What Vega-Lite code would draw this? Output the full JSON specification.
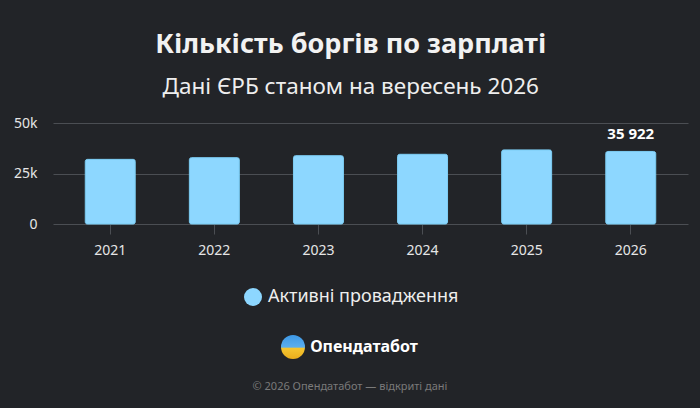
{
  "$schema": "https://vega.github.io/schema/vega-lite/v6.json",
  "background": "#222428",
  "padding": {"left": 13, "right": 12, "top": 30, "bottom": 3},
  "config": {
    "view": {"stroke": null},
    "font": "Noto Sans",
    "locale": {"number": {"decimal": ",", "thousands": "\u00a0", "grouping": [3], "currency": ["", ""]}},
    "concat": {"spacing": 21}
  },
  "resolve": {"legend": {"color": "independent"}, "scale": {"color": "independent"}},
  "title": {
    "text": "Кількість боргів по зарплаті",
    "subtitle": "Дані ЄРБ станом на вересень 2026",
    "anchor": "middle",
    "frame": "bounds",
    "fontSize": 27,
    "fontWeight": "bold",
    "color": "#f2f2f2",
    "subtitleFontSize": 22.5,
    "subtitleColor": "#eeeeee",
    "subtitlePadding": 17,
    "offset": 17
  },
  "vconcat": [
    {
      "width": 635,
      "height": 101,
      "data": {"values": [
        {"year": "2021", "count": 32000, "series": "Активні провадження"},
        {"year": "2022", "count": 32850, "series": "Активні провадження"},
        {"year": "2023", "count": 33830, "series": "Активні провадження"},
        {"year": "2024", "count": 34500, "series": "Активні провадження"},
        {"year": "2025", "count": 36670, "series": "Активні провадження"},
        {"year": "2026", "count": 35922, "series": "Активні провадження"}
      ]},
      "layer": [
        {
          "mark": {"type": "bar", "cornerRadius": 2, "stroke": "#7fd0f7", "strokeWidth": 1},
          "encoding": {
            "x": {"field": "year", "type": "ordinal", "scale": {"paddingInner": 0.52, "paddingOuter": 0.31},
              "axis": {"title": null, "labelAngle": 0, "domain": false, "ticks": true, "tickColor": "#4b4e53", "tickSize": 10, "labelPadding": 9, "labelFontSize": 14, "labelColor": "#e6e6e6", "grid": false}},
            "y": {"field": "count", "type": "quantitative", "scale": {"domain": [0, 50000], "nice": false},
              "axis": {"title": null, "domain": false, "ticks": false, "grid": true, "gridColor": "#4b4e53", "labelPadding": 16, "values": [0, 25000, 50000], "labelExpr": "datum.value == 0 ? '0' : format(datum.value / 1000, 'd') + 'k'", "labelFontSize": 14, "labelColor": "#e6e6e6"}},
            "color": {"field": "series", "type": "nominal", "scale": {"range": ["#8dd7ff"]},
              "legend": {"orient": "none", "legendX": 191, "legendY": 165, "padding": 0, "title": null, "symbolType": "circle", "symbolSize": 324, "symbolStrokeWidth": 0, "labelFontSize": 18, "labelColor": "#eeeeee", "labelOffset": 6, "labelLimit": 0}}
          }
        },
        {
          "transform": [{"filter": "datum.year == '2026'"}],
          "mark": {"type": "text", "baseline": "alphabetic", "dy": -12, "fontSize": 15, "fontWeight": "bold", "color": "#ffffff"},
          "encoding": {
            "x": {"field": "year", "type": "ordinal"},
            "y": {"field": "count", "type": "quantitative"},
            "text": {"field": "count", "type": "quantitative", "format": ",d"}
          }
        }
      ]
    },
    {
      "width": 594,
      "height": 80,
      "data": {"values": [
        {"row": "brand", "text": "Опендатабот"},
        {"row": "footer", "text": "© 2026 Опендатабот — відкриті дані"}
      ]},
      "layer": [
        {
          "transform": [{"filter": "datum.row == 'brand'"}],
          "mark": {"type": "point", "filled": true, "size": 576, "xOffset": -57, "opacity": 1, "strokeWidth": 0,
            "color": {"gradient": "linear", "x1": 0, "y1": 0, "x2": 0, "y2": 1, "stops": [
              {"offset": 0, "color": "#3d98e6"}, {"offset": 0.5, "color": "#5aaeee"}, {"offset": 0.56, "color": "#f4c531"}, {"offset": 1, "color": "#e9ad1c"}]}},
          "encoding": {"y": {"field": "row", "type": "nominal", "scale": {"type": "point", "domain": ["brand", "footer"], "padding": 0.5}, "axis": null}}
        },
        {
          "transform": [{"filter": "datum.row == 'brand'"}],
          "mark": {"type": "text", "fontSize": 16, "fontWeight": "bold", "color": "#ffffff", "dx": 14},
          "encoding": {"y": {"field": "row", "type": "nominal"}, "text": {"field": "text"}}
        },
        {
          "transform": [{"filter": "datum.row == 'footer'"}],
          "mark": {"type": "text", "fontSize": 11, "color": "#7a7a7a"},
          "encoding": {"y": {"field": "row", "type": "nominal"}, "text": {"field": "text"}}
        }
      ]
    }
  ]
}
